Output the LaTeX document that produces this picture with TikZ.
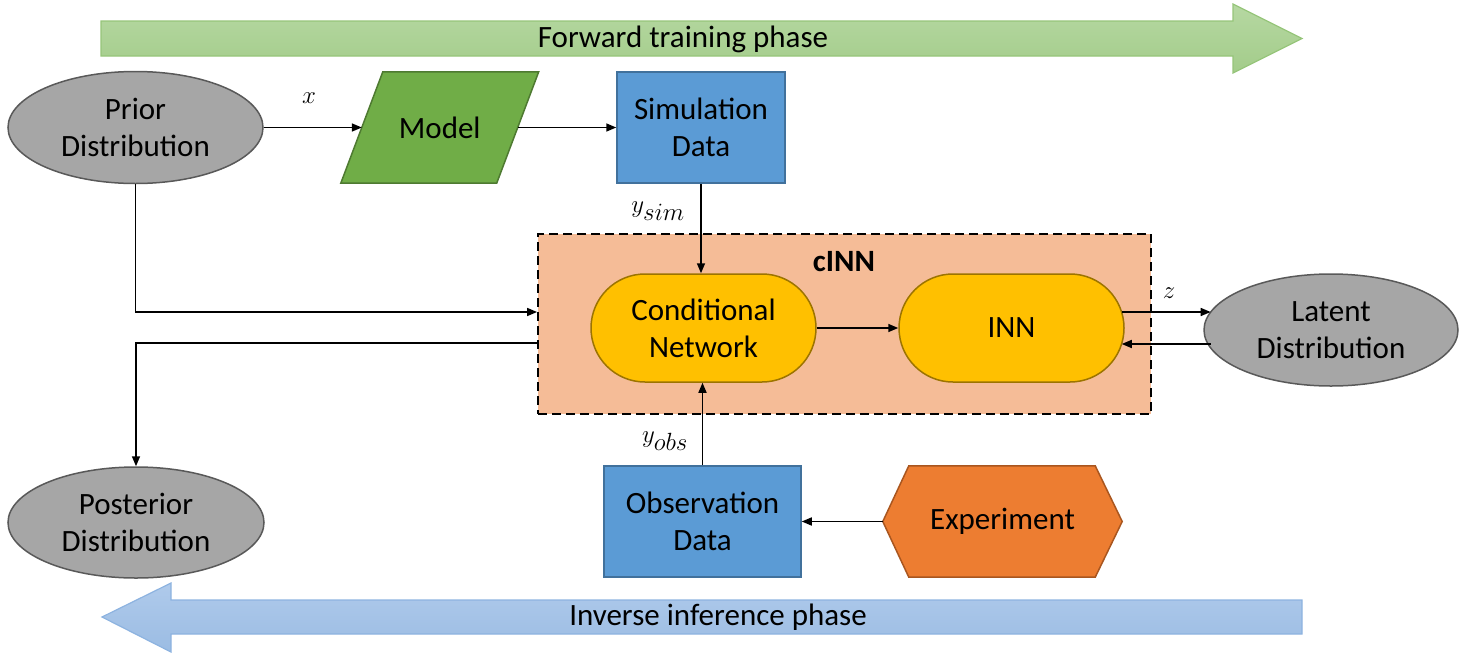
\documentclass[tikz,border=0pt]{standalone}
\usepackage{fontspec}
\setmainfont{Carlito}
\usetikzlibrary{shapes.geometric,shapes.misc,arrows.meta,calc}
\definecolor{grayfill}{HTML}{A6A6A6}
\definecolor{grayline}{HTML}{595959}
\definecolor{modelfill}{HTML}{70AD47}
\definecolor{modelline}{HTML}{4E7A31}
\definecolor{bluefill}{HTML}{5B9BD5}
\definecolor{blueline}{HTML}{41719C}
\definecolor{yelfill}{HTML}{FFC000}
\definecolor{yelline}{HTML}{9C7400}
\definecolor{orafill}{HTML}{ED7D31}
\definecolor{oraline}{HTML}{A9561F}
\definecolor{cinnfill}{HTML}{F5BC97}
\definecolor{gtop}{HTML}{B6D8A2}
\definecolor{gbot}{HTML}{A3CC8A}
\definecolor{gline}{HTML}{96C57A}
\definecolor{btop}{HTML}{AFCAEB}
\definecolor{bbot}{HTML}{9BBCE3}
\definecolor{bline}{HTML}{8DB3E0}
\tikzset{
  every node/.style={font=\fontsize{31}{37}\selectfont, align=center, inner sep=0pt},
  distnode/.style={ellipse, draw=grayline, fill=grayfill, line width=1.5pt},
  datanode/.style={rectangle, draw=blueline, fill=bluefill, line width=1.5pt, minimum height=111pt},
  netnode/.style={rounded rectangle, rounded rectangle arc length=180, draw=yelline, fill=yelfill, line width=1.5pt, minimum width=225pt, minimum height=108pt},
  plainbox/.style={rectangle, minimum height=111pt},
  conn/.style={line width=1.6pt, -{Triangle[length=10pt,width=8pt]}},
  mathlab/.style={font=\fontsize{33}{38}\selectfont},
}
\begin{document}
\begin{tikzpicture}[x=1pt,y=-1pt]
\useasboundingbox (0,0) rectangle (1464,656);
% phase arrows
\draw[gline, line width=1.2pt, top color=gtop, bottom color=gbot]
  (101,21) -- (1233,21) -- (1233,4) -- (1302,38.5) -- (1233,73) -- (1233,56) -- (101,56) -- cycle;
\node (fwd) at (683,39) {Forward training phase};
\draw[bline, line width=1.2pt, top color=btop, bottom color=bbot]
  (1302,600) -- (171,600) -- (171,583) -- (102,617) -- (171,652) -- (171,634) -- (1302,634) -- cycle;
\node (inv) at (718,617) {Inverse inference phase};

% cINN box
\node[rectangle, draw=black, fill=cinnfill, line width=1.8pt, dash pattern=on 9pt off 5pt,
      minimum width=613pt, minimum height=180pt] (cinn) at (844.5,324) {};
\node[font=\fontsize{31}{37}\selectfont\bfseries] (cinnlab) at (844,262) {cINN};

% nodes
\node[distnode, minimum width=255pt, minimum height=112pt] (prior) at (135.5,127.5) {Prior\\Distribution};
\node[plainbox, minimum width=155.5pt] (model) at (439.75,127.5) {};
\draw[modelline, fill=modelfill, line width=1.5pt]
  ($(model.south west)+(-21,0)$) -- ($(model.north west)+(21,0)$) --
  ($(model.north east)+(21,0)$) -- ($(model.south east)+(-21,0)$) -- cycle;
\node at (model) {Model};
\node[datanode, minimum width=168pt] (sim) at (701,127.5) {Simulation\\Data};
\node[netnode] (cn) at (703.5,328) {Conditional\\Network};
\node[netnode] (inn) at (1011.5,328) {INN};
\node[distnode, minimum width=254pt, minimum height=112pt] (lat) at (1331,330) {Latent\\Distribution};
\node[distnode, minimum width=256pt, minimum height=111pt] (post) at (136,522.5) {Posterior\\Distribution};
\node[datanode, minimum width=197pt] (obs) at (702.5,521.5) {Observation\\Data};
\node[plainbox, minimum width=239pt] (exp) at (1002.5,521.5) {};
\draw[oraline, fill=orafill, line width=1.5pt]
  (exp.west) -- ($(exp.north west)+(26,0)$) -- ($(exp.north east)+(-27,0)$) --
  (exp.east) -- ($(exp.south east)+(-27,0)$) -- ($(exp.south west)+(26,0)$) -- cycle;
\node at (exp) {Experiment};

% labels
\node[mathlab] (lx) at (309,98) {$x$};
\node[mathlab] (lysim) at (658,211) {$y_{sim}$};
\node[mathlab] (lz) at (1169,293) {$z$};
\node[mathlab] (lyobs) at (665,441) {$y_{obs}$};

% level coordinates for the two latent connectors
\coordinate (zout) at (0,312);
\coordinate (zin) at (0,344);

% connectors
\draw[conn] (prior.east) -- (model.west);
\draw[conn] (model.east) -- (sim.west);
\draw[conn] (sim.south) -- (sim.south |- cn.north);
\draw[conn] (obs.north) -- (obs.north |- cn.south);
\draw[conn] (cn.east) -- (inn.west);
\draw[conn] ([xshift=-3pt]inn.east |- zout) -- (lat.171 |- zout);
\draw[conn] (lat.189 |- zin) -- ([xshift=-3pt]inn.east |- zin);
\draw[conn] (prior.south) |- ([yshift=12pt]cinn.west);
\draw[conn] ([yshift=-19pt]cinn.west) -| (post.north);
\draw[conn] (exp.west) -- (obs.east);
\end{tikzpicture}
\end{document}
